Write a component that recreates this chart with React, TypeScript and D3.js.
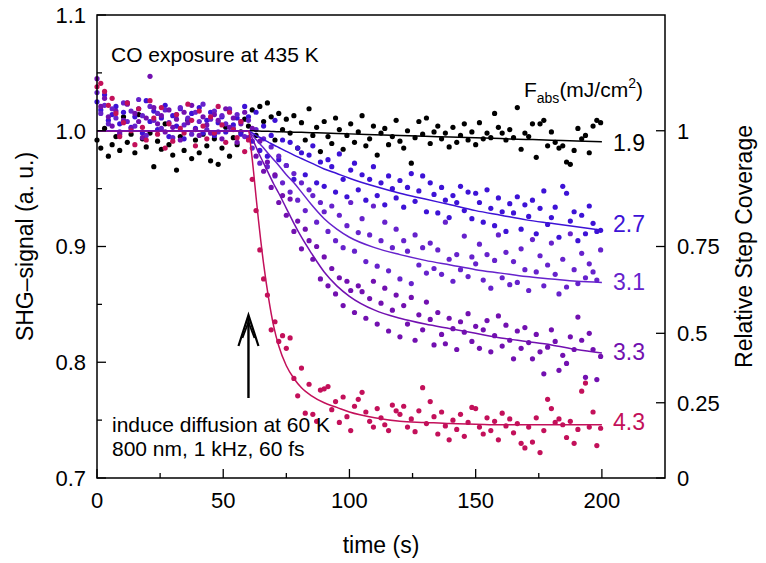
import React from 'react';
import * as d3 from 'd3';

// sampling times (s)
const times = [
  0, 1.5, 3, 4.5, 6, 7.5, 9, 10.5, 12, 13.5,
  15, 16.5, 18, 19.5, 21, 22.5, 24, 25.5, 27, 28.5,
  30, 31.5, 33, 34.5, 36, 37.5, 39, 40.5, 42, 43.5,
  45, 46.5, 48, 49.5, 51, 52.5, 54, 55.5, 57, 58.5,
  60, 61.5, 63, 64.5, 66, 67.5, 69, 70.5, 72, 73.5,
  75, 76.5, 78, 79.5, 81, 82.5, 84, 85.5, 87, 88.5,
  90, 91.5, 93, 94.5, 96, 97.5, 99, 100.5, 102, 103.5,
  105, 106.5, 108, 109.5, 111, 112.5, 114, 115.5, 117, 118.5,
  120, 121.5, 123, 124.5, 126, 127.5, 129, 130.5, 132, 133.5,
  135, 136.5, 138, 139.5, 141, 142.5, 144, 145.5, 147, 148.5,
  150, 151.5, 153, 154.5, 156, 157.5, 159, 160.5, 162, 163.5,
  165, 166.5, 168, 169.5, 171, 172.5, 174, 175.5, 177, 178.5,
  180, 181.5, 183, 184.5, 186, 187.5, 189, 190.5, 192, 193.5,
  195, 196.5, 198, 199.5,
];

const shg19 = [
  0.992, 0.985, 1.002, 0.978, 0.988, 0.995, 0.983, 1.012, 0.990, 0.997,
  0.981, 1.014, 0.993, 0.986, 0.998, 0.969, 0.991, 0.984, 1.006, 0.988,
  0.979, 0.966, 0.995, 0.983, 1.009, 0.976, 0.992, 0.981, 0.997, 0.987,
  0.974, 0.993, 0.971, 0.985, 1.003, 0.978, 0.994, 0.988, 0.999, 1.010,
  1.004, 1.018, 0.996, 1.021, 1.008, 1.024, 1.012, 0.992, 1.015, 1.001,
  1.010, 0.998, 1.013, 0.985, 1.007, 0.992, 1.019, 0.996, 1.003, 0.982,
  1.008, 0.995, 0.989, 1.011, 1.001, 0.984, 0.996, 1.006, 0.990, 0.999,
  1.013, 0.987, 0.993, 1.004, 0.979, 0.998, 1.002, 0.988, 0.995, 1.009,
  0.991, 0.985, 1.000, 0.972, 0.994, 1.008, 0.997, 1.011, 0.989, 0.999,
  1.004, 0.993, 0.998, 0.986, 1.003, 0.990, 0.996, 1.006, 0.992, 0.999,
  0.988, 1.007, 0.993, 0.998, 0.994, 1.015, 1.003, 0.998, 0.992, 1.001,
  0.994, 1.020, 0.984, 0.998, 0.995, 1.006, 0.977, 1.006, 1.009, 0.987,
  0.999, 0.990, 0.985, 0.987, 0.973, 0.971, 0.983, 1.002, 0.993, 0.996,
  0.981, 1.004, 1.009, 1.007,
];

const shg27 = [
  1.025, 1.018, 1.031, 1.009, 1.014, 1.021, 1.006, 1.016, 1.024, 1.003,
  1.012, 1.019, 0.998, 1.026, 1.008, 1.017, 1.001, 1.011, 1.022, 0.995,
  1.013, 1.004, 1.019, 0.993, 1.010, 1.015, 1.002, 1.020, 0.998, 1.009,
  1.016, 0.996, 1.007, 1.012, 0.999, 1.018, 1.005, 1.011, 0.997, 1.021,
  1.012, 0.991, 1.016, 0.983, 1.004, 0.978, 0.996, 1.009, 0.975, 0.992,
  0.970, 0.990, 0.958, 0.985, 0.981, 0.962, 0.979, 0.987, 0.955, 0.973,
  0.952, 0.975, 0.969, 0.947, 0.980, 0.958, 0.943, 0.966, 0.972, 0.949,
  0.962, 0.940, 0.958, 0.969, 0.944, 0.955, 0.936, 0.961, 0.950, 0.942,
  0.957, 0.934, 0.951, 0.963, 0.939, 0.948, 0.961, 0.930, 0.955, 0.945,
  0.929, 0.951, 0.940, 0.925, 0.944, 0.938, 0.952, 0.931, 0.947, 0.924,
  0.946, 0.938, 0.921, 0.949, 0.933, 0.918, 0.942, 0.930, 0.913, 0.937,
  0.929, 0.943, 0.915, 0.936, 0.926, 0.940, 0.911, 0.933, 0.948, 0.919,
  0.925, 0.934, 0.908, 0.952, 0.946, 0.922, 0.930, 0.905, 0.927, 0.911,
  0.935, 0.920, 0.913, 0.914,
];

const shg31 = [
  1.033, 1.015, 1.022, 1.006, 1.019, 1.011, 0.999, 1.024, 1.008, 1.017,
  1.004, 1.027, 1.013, 0.996, 1.021, 1.009, 1.015, 1.002, 1.018, 1.007,
  0.994, 1.014, 1.020, 1.005, 1.011, 0.997, 1.016, 1.008, 1.023, 1.001,
  1.010, 1.017, 0.999, 1.013, 1.006, 1.019, 1.002, 1.014, 1.008, 0.995,
  1.009, 0.985, 1.001, 0.972, 0.993, 0.969, 0.986, 0.961, 0.978, 0.955,
  0.970, 0.947, 0.963, 0.940, 0.955, 0.931, 0.949, 0.944, 0.921, 0.938,
  0.930, 0.913, 0.935, 0.905, 0.927, 0.899, 0.918, 0.938, 0.896, 0.912,
  0.924, 0.887, 0.910, 0.935, 0.883, 0.905, 0.921, 0.879, 0.899, 0.915,
  0.872, 0.905, 0.896, 0.868, 0.910, 0.884, 0.899, 0.877, 0.903, 0.881,
  0.897, 0.876, 0.921, 0.889, 0.870, 0.893, 0.880, 0.909, 0.874, 0.891,
  0.885, 0.902, 0.871, 0.893, 0.864, 0.888, 0.910, 0.873, 0.895, 0.867,
  0.887, 0.869, 0.898, 0.880, 0.862, 0.906, 0.878, 0.892, 0.866, 0.884,
  0.903, 0.876, 0.859, 0.889, 0.865, 0.911, 0.880, 0.868, 0.894, 0.873,
  0.885, 0.878, 0.871, 0.897,
];

const shg33 = [
  1.045, 1.021, 1.028, 1.012, 1.004, 1.017, 0.997, 1.009, 1.023, 1.002,
  1.015, 1.008, 0.994, 1.011, 1.047, 1.020, 1.006, 1.013, 0.999, 1.018,
  1.003, 1.010, 0.992, 1.016, 1.007, 1.022, 1.001, 0.996, 1.012, 1.005,
  0.998, 1.014, 1.009, 0.993, 1.019, 1.003, 1.011, 0.990, 1.006, 1.016,
  0.994, 1.002, 0.978, 0.991, 0.965, 0.973, 0.951, 0.962, 0.938, 0.944,
  0.927, 0.941, 0.913, 0.922, 0.898, 0.915, 0.905, 0.889, 0.900, 0.872,
  0.891, 0.866, 0.881, 0.859, 0.873, 0.849, 0.870, 0.862, 0.843, 0.866,
  0.861, 0.838, 0.855, 0.870, 0.833, 0.851, 0.864, 0.827, 0.845, 0.858,
  0.822, 0.849, 0.833, 0.856, 0.819, 0.841, 0.828, 0.852, 0.837, 0.815,
  0.843, 0.824, 0.816, 0.838, 0.829, 0.811, 0.835, 0.826, 0.842, 0.818,
  0.831, 0.812, 0.828, 0.836, 0.809, 0.823, 0.840, 0.814, 0.832, 0.819,
  0.803, 0.827, 0.812, 0.830, 0.817, 0.803, 0.824, 0.809, 0.790, 0.813,
  0.828, 0.818, 0.793, 0.806, 0.799, 0.822, 0.811, 0.839, 0.819, 0.787,
  0.825, 0.811, 0.785, 0.805,
];

const shg43 = [
  1.038, 1.041, 1.034, 1.022, 1.028, 1.015, 0.995, 1.007, 1.024, 1.000,
  0.988, 1.019, 1.003, 0.992, 1.026, 1.011, 0.997, 1.020, 0.985, 1.006,
  0.991, 1.014, 1.002, 0.998, 1.023, 1.009, 0.987, 1.017, 1.004, 0.993,
  1.012, 0.998, 1.021, 1.005, 0.990, 1.016, 1.001, 0.994, 1.008, 0.982,
  0.992, 0.958, 0.931, 0.897, 0.872, 0.858, 0.828, 0.835, 0.818, 0.823,
  0.812, 0.821, 0.786, 0.771, 0.795, 0.756, 0.781, 0.755, 0.749, 0.776,
  0.777, 0.779, 0.759, 0.766, 0.748, 0.770, 0.753, 0.741, 0.762, 0.768,
  0.774, 0.757, 0.749, 0.744, 0.760, 0.752, 0.746, 0.741, 0.763, 0.758,
  0.755, 0.762, 0.744, 0.751, 0.740, 0.758, 0.778, 0.747, 0.766, 0.753,
  0.738, 0.757, 0.745, 0.733, 0.750, 0.742, 0.755, 0.736, 0.748, 0.761,
  0.760, 0.744, 0.738, 0.752, 0.741, 0.749, 0.733, 0.756, 0.745, 0.751,
  0.739, 0.747, 0.730, 0.726, 0.744, 0.731, 0.752, 0.722, 0.741, 0.768,
  0.760, 0.748, 0.751, 0.746, 0.735, 0.749, 0.730, 0.742, 0.775, 0.782,
  0.744, 0.757, 0.728, 0.743,
];

const fitTimes = [0, 60, 61, 62, 63, 64, 66, 68, 70, 72, 75, 78, 81, 85, 90, 95, 100, 110, 120, 130, 140, 150, 160, 170, 180, 190, 200];
const fit19 = [1, 1, 0.9999, 0.9999, 0.9998, 0.9997, 0.9996, 0.9995, 0.9993, 0.9992, 0.999, 0.9988, 0.9986, 0.9983, 0.998, 0.9976, 0.9973, 0.9966, 0.9959, 0.9952, 0.9946, 0.9939, 0.9932, 0.9925, 0.9919, 0.9912, 0.9905];
const fit27 = [1, 1, 0.9987, 0.9974, 0.9961, 0.9948, 0.9923, 0.99, 0.9877, 0.9855, 0.9822, 0.979, 0.976, 0.972, 0.967, 0.963, 0.959, 0.952, 0.946, 0.941, 0.936, 0.931, 0.927, 0.923, 0.92, 0.917, 0.914];
const fit31 = [1, 1, 0.9975, 0.995, 0.9925, 0.99, 0.985, 0.98, 0.975, 0.97, 0.962, 0.955, 0.947, 0.936, 0.924, 0.915, 0.908, 0.899, 0.893, 0.888, 0.884, 0.88, 0.877, 0.874, 0.872, 0.87, 0.869];
const fit33 = [1, 1, 0.996, 0.991, 0.986, 0.981, 0.972, 0.963, 0.954, 0.946, 0.933, 0.92, 0.908, 0.894, 0.878, 0.866, 0.857, 0.845, 0.838, 0.833, 0.829, 0.825, 0.821, 0.818, 0.815, 0.811, 0.808];
const fit43 = [1, 1, 0.985, 0.965, 0.943, 0.922, 0.885, 0.855, 0.831, 0.814, 0.797, 0.786, 0.778, 0.771, 0.765, 0.761, 0.757, 0.752, 0.749, 0.748, 0.747, 0.7465, 0.746, 0.746, 0.746, 0.746, 0.746];

const fluences = ['1.9', '2.7', '3.1', '3.3', '4.3'];
const colors = ['#000000', '#3d12d6', '#6622cc', '#7210b0', '#c3105a'];
const seriesData = [shg19, shg27, shg31, shg33, shg43];
const seriesFits = [fit19, fit27, fit31, fit33, fit43];

// right axis: relative step coverage and the signal level it sits at
const coverageTicks = ['1', '0.75', '0.5', '0.25', '0'];
const coverageSignal = [1.0, 0.9, 0.825, 0.765, 0.7];

const W = 766, H = 563;
const left = 97, right = 665, top = 15, bottom = 478;
const font = 'Liberation Sans, Arial, Helvetica, sans-serif';

export default function App() {
  const x = d3.scaleLinear().domain([0, 225]).range([left, right]);
  const y = d3.scaleLinear().domain([0.7, 1.1]).range([bottom, top]);

  const line = d3.line<[number, number]>()
    .x(d => x(d[0]))
    .y(d => y(d[1]))
    .curve(d3.curveMonotoneX);

  const yMajor = d3.range(0.7, 1.101, 0.1);
  const yMinor = d3.range(0.75, 1.1, 0.1);
  const xMajor = d3.range(0, 201, 50);
  const xMinor = d3.range(25, 201, 50);

  const lastFit = (i: number) => seriesFits[i][seriesFits[i].length - 1];
  const labelBase = [151, 232, 290, 360, 430];

  // arrow at t = 60 s
  const ax = x(60);

  return (
    <svg width={W} height={H} style={{ position: 'absolute', left: 0, top: 0, background: '#fff' }}
      fontFamily={font}>
      {/* dots */}
      {seriesData.map((vals, si) => (
        <g key={'d' + si} fill={colors[si]}>
          {vals.map((v, i) => (
            <circle key={i} cx={x(times[i])} cy={y(v)} r={2.6} />
          ))}
        </g>
      ))}
      {/* fits */}
      {seriesFits.map((f, si) => (
        <path key={'f' + si} d={line(fitTimes.map((t, i) => [t, f[i]]))!}
          fill="none" stroke={colors[si]} strokeWidth={1.5} />
      ))}
      {/* fit 3.3 drawn on top over the flat part */}
      <path d={line([[0, fit33[0]], [60, fit33[1]]])!} fill="none" stroke={colors[3]} strokeWidth={1.6} />

      {/* frame */}
      <path d={`M${left},${top}H${right}V${bottom}H${left}Z`} fill="none" stroke="#000" strokeWidth={1.5} />

      {/* left axis */}
      {yMajor.map(v => (
        <g key={'ym' + v}>
          <line x1={left} x2={left + 9} y1={y(v)} y2={y(v)} stroke="#000" strokeWidth={1.3} />
          <text x={left - 11} y={y(v)} dy="0.36em" textAnchor="end" fontSize={22}>{v.toFixed(1)}</text>
        </g>
      ))}
      {yMinor.map(v => (
        <line key={'yn' + v} x1={left} x2={left + 5} y1={y(v)} y2={y(v)} stroke="#000" strokeWidth={1.3} />
      ))}

      {/* bottom axis */}
      {xMajor.map(v => (
        <g key={'xm' + v}>
          <line x1={x(v)} x2={x(v)} y1={bottom} y2={bottom - 9} stroke="#000" strokeWidth={1.3} />
          <text x={x(v)} y={bottom + 30} textAnchor="middle" fontSize={22}>{v}</text>
        </g>
      ))}
      {xMinor.map(v => (
        <line key={'xn' + v} x1={x(v)} x2={x(v)} y1={bottom} y2={bottom - 5} stroke="#000" strokeWidth={1.3} />
      ))}

      {/* right axis */}
      {coverageTicks.map((lab, i) => (
        <g key={'r' + i}>
          <line x1={right} x2={right - 9} y1={y(coverageSignal[i])} y2={y(coverageSignal[i])} stroke="#000" strokeWidth={1.3} />
          <text x={right + 12} y={y(coverageSignal[i])} dy="0.36em" fontSize={22}>{lab}</text>
        </g>
      ))}

      {/* axis titles */}
      <text x={(left + right) / 2} y={553} textAnchor="middle" fontSize={23}>time (s)</text>
      <text transform={`translate(33,${(top + bottom) / 2}) rotate(-90)`} textAnchor="middle" fontSize={23}>SHG–signal (a. u.)</text>
      <text transform={`translate(752,${(top + bottom) / 2}) rotate(-90)`} textAnchor="middle" fontSize={23}>Relative Step Coverage</text>

      {/* fluence labels */}
      {fluences.map((f, i) => (
        <text key={'l' + i} x={613} y={labelBase[i]} fill={colors[i]} fontSize={23}
          data-level={lastFit(i)}>{f}</text>
      ))}
      <text x={643} y={97} textAnchor="end" fontSize={21}>
        F<tspan fontSize={14} dy={6}>abs</tspan><tspan dy={-6}>(mJ/cm</tspan><tspan fontSize={14} dy={-9}>2</tspan><tspan dy={9}>)</tspan>
      </text>

      {/* annotations */}
      <text x={111} y={62} fontSize={21}>CO exposure at 435 K</text>
      <text x={112} y={432} fontSize={21}>induce diffusion at 60 K</text>
      <text x={112} y={456} fontSize={21}>800 nm, 1 kHz, 60 fs</text>
      <line x1={ax} x2={ax} y1={398} y2={317} stroke="#000" strokeWidth={2.4} />
      <path d={`M${ax - 10},${346}L${ax},${315}L${ax + 10},${346}`} fill="none" stroke="#000" strokeWidth={2.2} />
      <path d={`M${ax - 6},${338}L${ax},${322}L${ax + 6},${338}`} fill="none" stroke="#000" strokeWidth={1.8} />
    </svg>
  );
}
